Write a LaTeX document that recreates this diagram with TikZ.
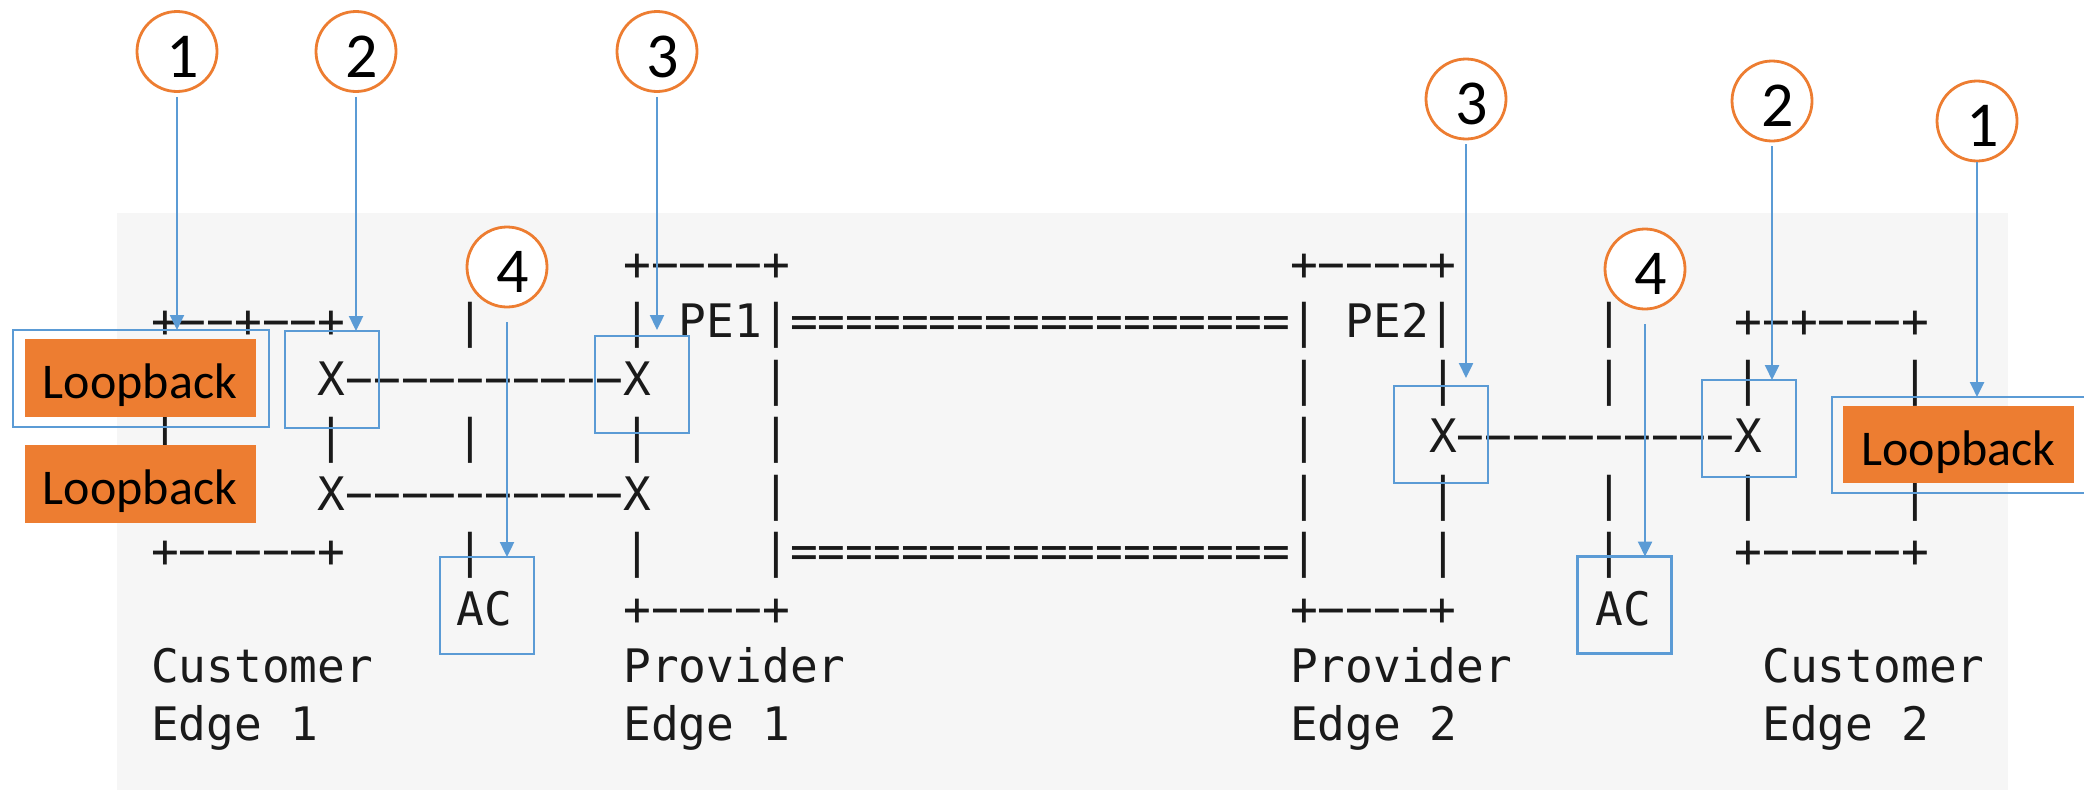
\documentclass[tikz,border=0pt]{standalone}
\usepackage{fontspec}
\setmonofont{DejaVu Sans Mono}
\newfontfamily\calib{Carlito}
\usetikzlibrary{arrows.meta}
\definecolor{bgGray}{RGB}{246,246,246}
\definecolor{offOrange}{RGB}{237,125,49}
\definecolor{offBlue}{RGB}{91,155,213}
\definecolor{asciiInk}{RGB}{26,26,26}
\newcommand\Dsh[1]{\foreach \dI in {1,...,#1}{−\kern0pt}}
\newcommand\ascii[4]{\node[asc] (#1) at ({151.1+27.78*(#2)},{280+57.5*(#3)}) {#4};}
\begin{document}
\begin{tikzpicture}[x=1pt,y=-1pt,
  asc/.style={anchor=base west, inner sep=0pt, outer sep=0pt, font=\ttfamily\fontsize{46.14}{50}\selectfont, text=asciiInk},
  hl/.style={draw=offBlue, line width=2.8pt, inner sep=0pt, outer sep=0pt, minimum width=94pt, minimum height=97pt},
  lpbox/.style={fill=offOrange, inner sep=0pt, outer sep=0pt, minimum width=231pt, minimum height=78pt},
  lptext/.style={anchor=base, inner sep=0pt, font=\calib\fontsize{50}{60}\selectfont, text=black},
  num/.style={circle, draw=offOrange, fill=white, line width=2.8pt, minimum size=80pt, inner sep=0pt},
  numtext/.style={inner sep=0pt, font=\calib\fontsize{64}{70}\selectfont, text=black},
  arr/.style={draw=offBlue, line width=2.4pt, -{Triangle[width=14pt,length=15pt]}}
]
\useasboundingbox (0,0) rectangle (2084,790);
\fill[white] (0,0) rectangle (2084,790);
\node[fill=bgGray, inner sep=0pt, outer sep=0pt, minimum width=1891pt, minimum height=577pt, anchor=north west] (codebg) at (117,213) {};

% ---- ASCII art ----
\ascii{r0a}{17}{0}{+\Dsh{4}+}
\ascii{r0b}{41}{0}{+\Dsh{4}+}
\ascii{r1a}{0}{1}{+\Dsh{2}+\Dsh{2}+}
\ascii{r1b}{11}{1}{|}
\ascii{r1c}{17}{1}{|}
\ascii{r1d}{19}{1}{PE1|==================|}
\ascii{r1e}{43}{1}{PE2|}
\ascii{r1f}{52}{1}{|}
\ascii{r1g}{57}{1}{+\Dsh{1}+\Dsh{3}+}
\ascii{r2a}{6}{2}{X\Dsh{10}X}
\ascii{r2b}{22}{2}{|}
\ascii{r2c}{41}{2}{|}
\ascii{r2d}{46}{2}{|}
\ascii{r2e}{52}{2}{|}
\ascii{r2f}{57}{2}{|}
\ascii{r2g}{63}{2}{|}
\ascii{r3a}{0}{3}{|}
\ascii{r3b}{6}{3}{|}
\ascii{r3c}{11}{3}{|}
\ascii{r3d}{17}{3}{|}
\ascii{r3e}{22}{3}{|}
\ascii{r3f}{41}{3}{|}
\ascii{r3g}{46}{3}{X\Dsh{10}X}
\ascii{r4a}{6}{4}{X\Dsh{10}X}
\ascii{r4b}{22}{4}{|}
\ascii{r4c}{41}{4}{|}
\ascii{r4d}{46}{4}{|}
\ascii{r4e}{52}{4}{|}
\ascii{r4f}{57}{4}{|}
\ascii{r4g}{63}{4}{|}
\ascii{r5a}{0}{5}{+\Dsh{5}+}
\ascii{r5b}{11}{5}{|}
\ascii{r5c}{17}{5}{|}
\ascii{r5d}{22}{5}{|==================|}
\ascii{r5e}{46}{5}{|}
\ascii{r5f}{52}{5}{|}
\ascii{r5g}{57}{5}{+\Dsh{5}+}
\ascii{r6a}{11}{6}{AC}
\ascii{r6b}{17}{6}{+\Dsh{4}+}
\ascii{r6c}{41}{6}{+\Dsh{4}+}
\ascii{r6d}{52}{6}{AC}
\ascii{r7a}{0}{7}{Customer}
\ascii{r7b}{17}{7}{Provider}
\ascii{r7c}{41}{7}{Provider}
\ascii{r7d}{58}{7}{Customer}
\ascii{r8a}{0}{8}{Edge}
\ascii{r8b}{5}{8}{1}
\ascii{r8c}{17}{8}{Edge}
\ascii{r8d}{22}{8}{1}
\ascii{r8e}{41}{8}{Edge}
\ascii{r8f}{46}{8}{2}
\ascii{r8g}{58}{8}{Edge}
\ascii{r8h}{63}{8}{2}

% ---- Loopback boxes ----
\node[lpbox] (oL1) at (140,378) {};
\node[lptext] (tL1) at ([yshift=-20.5pt]oL1.center) {Loopback};
\node[lpbox] (oL2) at (140,484) {};
\node[lptext] (tL2) at ([yshift=-20.5pt]oL2.center) {Loopback};
\node[lpbox, minimum height=77pt] (oR) at (1958.5,444.5) {};
\node[lptext] (tR) at ([yshift=-20.5pt]oR.center) {Loopback};

% ---- blue highlight boxes ----
\node[hl, minimum width=256pt] (bLoopL) at (141,378.5) {};
\node[hl] (bX1L) at (332,379.5) {};
\node[hl] (bX1P) at (642,384.5) {};
\node[hl] (bACL) at (487,605.5) {};
\node[hl] (bX2P) at (1441,434.5) {};
\node[hl] (bX2C) at (1749,428.5) {};
\node[hl] (bACR) at (1624.5,605) {};
\node[hl, minimum width=256pt, minimum height=96pt] (bLoopR) at (1960,445) {};

% ---- numbered circles ----
\node[num] (c1L) at (177,51.5) {};
\node[num] (c2L) at (356,51.5) {};
\node[num] (c3L) at (657,51.5) {};
\node[num] (c4L) at (507,267) {};
\node[num] (c3R) at (1466,99) {};
\node[num] (c2R) at (1772,101) {};
\node[num] (c1R) at (1977,121) {};
\node[num] (c4R) at (1645,269) {};
\node[numtext] (n1L) at ([xshift=6pt,yshift=-5pt]c1L.center) {1};
\node[numtext] (n2L) at ([xshift=6pt,yshift=-5pt]c2L.center) {2};
\node[numtext] (n3L) at ([xshift=6pt,yshift=-5pt]c3L.center) {3};
\node[numtext] (n4L) at ([xshift=6pt,yshift=-5pt]c4L.center) {4};
\node[numtext] (n3R) at ([xshift=6pt,yshift=-5pt]c3R.center) {3};
\node[numtext] (n2R) at ([xshift=6pt,yshift=-5pt]c2R.center) {2};
\node[numtext] (n1R) at ([xshift=6pt,yshift=-5pt]c1R.center) {1};
\node[numtext] (n4R) at ([xshift=6pt,yshift=-5pt]c4R.center) {4};

% ---- arrows ----
\draw[arr, shorten <=4pt] (c1L.south) -- (c1L.south |- bLoopL.north);
\draw[arr, shorten <=4pt] (c2L.south) -- (c2L.south |- bX1L.north);
\draw[arr, shorten <=4pt, shorten >=6pt] (c3L.south) -- (c3L.south |- bX1P.north);
\draw[arr, shorten <=14pt] (c4L.south) -- (c4L.south |- bACL.north);
\draw[arr, shorten <=4pt, shorten >=8pt] (c3R.south) -- (c3R.south |- bX2P.north);
\draw[arr, shorten <=4pt] (c2R.south) -- (c2R.south |- bX2C.north);
\draw[arr] (c1R.south) -- (c1R.south |- bLoopR.north);
\draw[arr, shorten <=14pt] (c4R.south) -- (c4R.south |- bACR.north);
\end{tikzpicture}
\end{document}
